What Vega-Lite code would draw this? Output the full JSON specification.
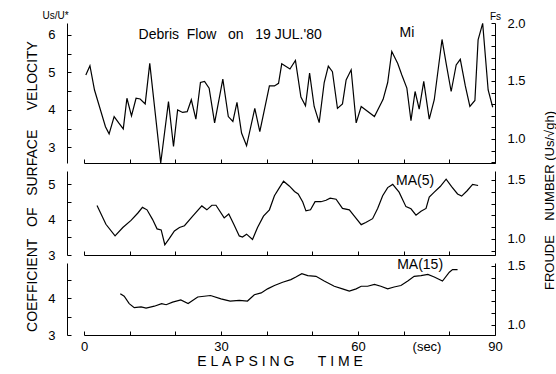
{
  "$schema": "https://vega.github.io/schema/vega-lite/v6.json",
  "padding": {"left": 24, "top": 10, "right": 0, "bottom": 0},
  "spacing": 8,
  "bounds": "flush",
  "config": {
    "view": {"stroke": null},
    "font": "Liberation Sans",
    "axis": {"domainColor": "black", "tickColor": "black", "labelColor": "black", "titleColor": "black", "labelFont": "Liberation Sans", "titleFont": "Liberation Sans", "titleFontWeight": "normal", "grid": false, "labelFontSize": 13, "tickWidth": 1, "domainWidth": 1}
  },
  "datasets": {
    "mi": [
      {"t": 0.4, "v": 4.93}, {"t": 1.3, "v": 5.18}, {"t": 2.3, "v": 4.53}, {"t": 4.7, "v": 3.55}, {"t": 5.5, "v": 3.36},
      {"t": 6.6, "v": 3.82}, {"t": 7.6, "v": 3.65}, {"t": 8.6, "v": 3.49}, {"t": 9.4, "v": 4.31}, {"t": 10.4, "v": 3.84},
      {"t": 11.4, "v": 4.31}, {"t": 12.3, "v": 4.29}, {"t": 13.4, "v": 4.16}, {"t": 14.4, "v": 5.24}, {"t": 16.8, "v": 2.58},
      {"t": 18.5, "v": 4.22}, {"t": 19.6, "v": 3.02}, {"t": 20.5, "v": 4.0}, {"t": 21.6, "v": 3.93}, {"t": 22.6, "v": 3.95},
      {"t": 23.5, "v": 4.27}, {"t": 24.5, "v": 3.75}, {"t": 25.5, "v": 4.73}, {"t": 26.4, "v": 4.76}, {"t": 27.4, "v": 4.58},
      {"t": 28.6, "v": 3.65}, {"t": 30.4, "v": 4.82}, {"t": 31.6, "v": 3.82}, {"t": 32.6, "v": 3.69}, {"t": 33.5, "v": 4.2},
      {"t": 34.5, "v": 3.38}, {"t": 35.6, "v": 3.04}, {"t": 37.4, "v": 4.04}, {"t": 38.5, "v": 3.42}, {"t": 40.6, "v": 4.64},
      {"t": 41.7, "v": 4.64}, {"t": 42.6, "v": 4.71}, {"t": 43.3, "v": 5.23}, {"t": 45.1, "v": 5.09}, {"t": 46.3, "v": 5.32},
      {"t": 47.5, "v": 4.34}, {"t": 48.5, "v": 4.11}, {"t": 49.4, "v": 4.98}, {"t": 50.4, "v": 4.09}, {"t": 51.5, "v": 3.66},
      {"t": 52.6, "v": 4.73}, {"t": 53.5, "v": 5.17}, {"t": 54.4, "v": 5.02}, {"t": 55.5, "v": 4.04}, {"t": 56.6, "v": 4.16},
      {"t": 57.4, "v": 4.8}, {"t": 58.5, "v": 5.07}, {"t": 59.6, "v": 3.65}, {"t": 60.7, "v": 4.09}, {"t": 63.6, "v": 3.82},
      {"t": 65.5, "v": 4.28}, {"t": 66.5, "v": 4.73}, {"t": 67.4, "v": 5.56}, {"t": 68.7, "v": 5.24}, {"t": 69.6, "v": 4.93},
      {"t": 70.7, "v": 4.58}, {"t": 71.6, "v": 3.71}, {"t": 72.5, "v": 4.49}, {"t": 73.4, "v": 4.02}, {"t": 74.4, "v": 4.76},
      {"t": 75.6, "v": 3.75}, {"t": 76.7, "v": 4.27}, {"t": 78.4, "v": 5.88}, {"t": 79.3, "v": 5.24}, {"t": 80.4, "v": 4.49},
      {"t": 81.5, "v": 5.2}, {"t": 82.4, "v": 5.35}, {"t": 83.5, "v": 4.64}, {"t": 84.5, "v": 4.09}, {"t": 85.6, "v": 4.25},
      {"t": 86.3, "v": 5.87}, {"t": 87.3, "v": 6.31}, {"t": 88.5, "v": 4.53}, {"t": 89.5, "v": 4.07}
    ],
    "ma5": [
      {"t": 2.85, "v": 4.4}, {"t": 4.8, "v": 3.87}, {"t": 6.8, "v": 3.54}, {"t": 8.5, "v": 3.78}, {"t": 10.3, "v": 3.98},
      {"t": 11.8, "v": 4.19}, {"t": 12.8, "v": 4.35}, {"t": 13.8, "v": 4.28}, {"t": 15.0, "v": 4.01}, {"t": 16.0, "v": 3.74},
      {"t": 16.9, "v": 3.71}, {"t": 17.7, "v": 3.29}, {"t": 18.7, "v": 3.47}, {"t": 19.8, "v": 3.68}, {"t": 20.9, "v": 3.78},
      {"t": 22.0, "v": 3.83}, {"t": 23.8, "v": 4.1}, {"t": 25.8, "v": 4.39}, {"t": 26.9, "v": 4.28}, {"t": 28.0, "v": 4.41},
      {"t": 28.9, "v": 4.41}, {"t": 30.7, "v": 4.05}, {"t": 31.7, "v": 4.16}, {"t": 32.8, "v": 3.87}, {"t": 34.0, "v": 3.54},
      {"t": 34.7, "v": 3.51}, {"t": 35.6, "v": 3.59}, {"t": 36.9, "v": 3.44}, {"t": 38.0, "v": 3.78}, {"t": 39.3, "v": 4.1},
      {"t": 40.6, "v": 4.28}, {"t": 41.7, "v": 4.68}, {"t": 42.8, "v": 4.91}, {"t": 43.7, "v": 5.09}, {"t": 45.0, "v": 4.95},
      {"t": 46.1, "v": 4.8}, {"t": 46.9, "v": 4.73}, {"t": 47.9, "v": 4.5}, {"t": 48.6, "v": 4.25}, {"t": 49.6, "v": 4.28},
      {"t": 50.6, "v": 4.51}, {"t": 51.9, "v": 4.51}, {"t": 53.0, "v": 4.55}, {"t": 53.9, "v": 4.61}, {"t": 55.2, "v": 4.58},
      {"t": 56.6, "v": 4.32}, {"t": 58.1, "v": 4.28}, {"t": 59.2, "v": 4.1}, {"t": 60.7, "v": 3.86}, {"t": 61.7, "v": 3.92},
      {"t": 63.2, "v": 4.03}, {"t": 64.3, "v": 4.32}, {"t": 65.4, "v": 4.68}, {"t": 66.5, "v": 4.91}, {"t": 67.6, "v": 5.0},
      {"t": 69.0, "v": 4.78}, {"t": 70.5, "v": 4.37}, {"t": 71.6, "v": 4.31}, {"t": 72.7, "v": 4.13}, {"t": 73.8, "v": 4.24},
      {"t": 74.9, "v": 4.32}, {"t": 75.6, "v": 4.64}, {"t": 76.7, "v": 4.78}, {"t": 78.0, "v": 4.94}, {"t": 79.3, "v": 5.15},
      {"t": 80.5, "v": 4.94}, {"t": 81.8, "v": 4.73}, {"t": 82.7, "v": 4.67}, {"t": 83.9, "v": 4.82}, {"t": 85.1, "v": 5.0},
      {"t": 86.3, "v": 4.97}
    ],
    "ma15": [
      {"t": 7.95, "v": 4.12}, {"t": 8.8, "v": 4.05}, {"t": 9.9, "v": 3.85}, {"t": 11.0, "v": 3.74}, {"t": 12.5, "v": 3.76},
      {"t": 13.6, "v": 3.73}, {"t": 15.4, "v": 3.78}, {"t": 17.0, "v": 3.85}, {"t": 18.0, "v": 3.82}, {"t": 19.4, "v": 3.89},
      {"t": 21.2, "v": 3.95}, {"t": 22.8, "v": 3.85}, {"t": 24.9, "v": 4.03}, {"t": 27.7, "v": 4.07}, {"t": 30.0, "v": 3.98},
      {"t": 32.0, "v": 3.92}, {"t": 34.0, "v": 3.94}, {"t": 35.8, "v": 3.92}, {"t": 37.3, "v": 4.09}, {"t": 38.8, "v": 4.14},
      {"t": 40.2, "v": 4.25}, {"t": 41.7, "v": 4.34}, {"t": 43.5, "v": 4.43}, {"t": 45.3, "v": 4.5}, {"t": 46.4, "v": 4.57},
      {"t": 47.7, "v": 4.66}, {"t": 49.0, "v": 4.61}, {"t": 50.8, "v": 4.59}, {"t": 52.6, "v": 4.46}, {"t": 54.8, "v": 4.32},
      {"t": 56.6, "v": 4.25}, {"t": 58.1, "v": 4.19}, {"t": 59.6, "v": 4.25}, {"t": 60.7, "v": 4.32}, {"t": 62.1, "v": 4.32},
      {"t": 63.6, "v": 4.37}, {"t": 65.0, "v": 4.32}, {"t": 66.5, "v": 4.25}, {"t": 67.9, "v": 4.3}, {"t": 69.4, "v": 4.34},
      {"t": 70.9, "v": 4.46}, {"t": 72.3, "v": 4.59}, {"t": 73.8, "v": 4.61}, {"t": 75.3, "v": 4.64}, {"t": 76.7, "v": 4.57},
      {"t": 78.5, "v": 4.46}, {"t": 80.0, "v": 4.7}, {"t": 80.7, "v": 4.77}, {"t": 81.8, "v": 4.77}
    ],
    "notesTop": [
      {"label": "Debris\u00a0\u00a0Flow\u00a0\u00a0\u00a0on\u00a0\u00a0\u00a019\u00a0JUL.'80", "t": 32.0, "v": 6.0},
      {"label": "Mi", "t": 70.7, "v": 6.05}
    ],
    "notesMid": [{"label": "MA(5)", "t": 72.5, "v": 5.11}],
    "notesBot": [{"label": "MA(15)", "t": 73.6, "v": 4.89}]
  },
  "vconcat": [
    {
      "width": 411,
      "height": 140,
      "resolve": {"scale": {"y": "independent"}},
      "layer": [
        {
          "encoding": {
            "x": {"field": "t", "type": "quantitative", "scale": {"domain": [0, 90], "nice": false},
              "axis": {"orient": "bottom", "values": [0, 10, 20, 30, 40, 50, 60, 70, 80, 90], "labels": false, "tickSize": -4, "title": null}},
            "y": {"field": "v", "type": "quantitative", "scale": {"domain": [2.58, 6.32], "nice": false, "zero": false},
              "axis": {"orient": "left", "offset": 17, "values": [3, 3.5, 4, 4.5, 5, 5.5, 6], "tickSize": -4, "labelPadding": 16,
                "labelExpr": "datum.value % 1 == 0 ? format(datum.value, 'd') : ''",
                "title": "Us/U*", "titleAngle": 0, "titleX": -12, "titleY": -8, "titleAlign": "center", "titleBaseline": "middle", "titleFontSize": 10}}
          },
          "layer": [
            {"data": {"name": "mi"}, "mark": {"type": "line", "color": "black", "strokeWidth": 1.2}},
            {"data": {"name": "notesTop"}, "mark": {"type": "text", "font": "Liberation Sans", "fontSize": 14, "color": "black", "baseline": "middle", "align": "center"},
              "encoding": {"text": {"field": "label"}}}
          ]
        },
        {
          "data": {"name": "mi"},
          "mark": {"type": "rule", "strokeOpacity": 0},
          "encoding": {
            "y": {"datum": 1.5, "type": "quantitative", "scale": {"domain": [0.793, 2.0], "nice": false, "zero": false},
              "axis": {"orient": "right", "values": [0.8, 0.9, 1.0, 1.1, 1.2, 1.3, 1.4, 1.5, 1.6, 1.7, 1.8, 1.9, 2.0], "tickSize": -4, "labelPadding": 16,
                "labelExpr": "abs(datum.value * 2 - round(datum.value * 2)) < 0.01 ? format(datum.value, '.1f') : ''",
                "title": "Fs", "titleAngle": 0, "titleX": 0, "titleY": -7, "titleAlign": "center", "titleBaseline": "middle", "titleFontSize": 10}}
          }
        }
      ]
    },
    {
      "width": 411,
      "height": 84,
      "resolve": {"scale": {"y": "independent"}},
      "layer": [
        {
          "encoding": {
            "x": {"field": "t", "type": "quantitative", "scale": {"domain": [0, 90], "nice": false},
              "axis": {"orient": "bottom", "values": [0, 10, 20, 30, 40, 50, 60, 70, 80, 90], "labels": false, "tickSize": -4, "title": null}},
            "y": {"field": "v", "type": "quantitative", "scale": {"domain": [3, 5.38], "nice": false, "zero": false},
              "axis": {"orient": "left", "offset": 17, "values": [3, 3.5, 4, 4.5, 5], "tickSize": -4, "labelPadding": 16,
                "labelExpr": "datum.value % 1 == 0 ? format(datum.value, 'd') : ''",
                "title": "COEFFICIENT\u00a0\u00a0\u00a0OF\u00a0\u00a0\u00a0SURFACE\u00a0\u00a0\u00a0\u00a0\u00a0VELOCITY", "titleAngle": 270, "titleX": -35, "titleY": 15, "titleAlign": "center", "titleBaseline": "middle", "titleFontSize": 14}}
          },
          "layer": [
            {"data": {"name": "ma5"}, "mark": {"type": "line", "color": "black", "strokeWidth": 1.2}},
            {"data": {"name": "notesMid"}, "mark": {"type": "text", "font": "Liberation Sans", "fontSize": 14, "color": "black", "baseline": "middle", "align": "center"},
              "encoding": {"text": {"field": "label"}}}
          ]
        },
        {
          "data": {"name": "ma5"},
          "mark": {"type": "rule", "strokeOpacity": 0},
          "encoding": {
            "y": {"datum": 1.2, "type": "quantitative", "scale": {"domain": [0.864, 1.576], "nice": false, "zero": false},
              "axis": {"orient": "right", "values": [0.9, 1.0, 1.1, 1.2, 1.3, 1.4, 1.5], "tickSize": -4, "labelPadding": 16,
                "labelExpr": "abs(datum.value * 2 - round(datum.value * 2)) < 0.01 ? format(datum.value, '.1f') : ''",
                "title": "FROUDE\u00a0\u00a0\u00a0\u00a0NUMBER\u00a0(Us/√gh)", "titleAngle": 270, "titleX": 54, "titleY": 29, "titleAlign": "center", "titleBaseline": "middle", "titleFontSize": 13}}
          }
        }
      ]
    },
    {
      "width": 411,
      "height": 72,
      "resolve": {"scale": {"y": "independent"}},
      "layer": [
        {
          "encoding": {
            "x": {"field": "t", "type": "quantitative", "scale": {"domain": [0, 90], "nice": false},
              "axis": {"orient": "bottom", "values": [0, 10, 20, 30, 40, 50, 60, 70, 75, 80, 90], "tickSize": -4, "labelPadding": 9, "labelFlush": false,
                "tickOpacity": {"condition": {"test": "datum.value == 75", "value": 0}, "value": 1},
                "labelExpr": "datum.value == 75 ? '(sec)' : (datum.value % 30 == 0 ? format(datum.value, 'd') : '')",
                "labelFontSize": 13,
                "title": "E\u00a0L\u00a0A\u00a0P\u00a0S\u00a0I\u00a0N\u00a0G\u00a0\u00a0\u00a0\u00a0\u00a0\u00a0T\u00a0I\u00a0M\u00a0E", "titleFontSize": 14, "titleX": 195.5, "titleY": 26, "titleAlign": "center", "titleBaseline": "middle"}},
            "y": {"field": "v", "type": "quantitative", "scale": {"domain": [3, 4.95], "nice": false, "zero": false},
              "axis": {"orient": "left", "offset": 17, "values": [3, 3.5, 4, 4.5], "tickSize": -4, "labelPadding": 16,
                "labelExpr": "datum.value % 1 == 0 ? format(datum.value, 'd') : ''", "title": null}}
          },
          "layer": [
            {"data": {"name": "ma15"}, "mark": {"type": "line", "color": "black", "strokeWidth": 1.2}},
            {"data": {"name": "notesBot"}, "mark": {"type": "text", "font": "Liberation Sans", "fontSize": 14, "color": "black", "baseline": "middle", "align": "center"},
              "encoding": {"text": {"field": "label"}}}
          ]
        },
        {
          "data": {"name": "ma15"},
          "mark": {"type": "rule", "strokeOpacity": 0},
          "encoding": {
            "y": {"datum": 1.2, "type": "quantitative", "scale": {"domain": [0.915, 1.525], "nice": false, "zero": false},
              "axis": {"orient": "right", "values": [1.0, 1.1, 1.2, 1.3, 1.4, 1.5], "tickSize": -4, "labelPadding": 16,
                "labelExpr": "abs(datum.value * 2 - round(datum.value * 2)) < 0.01 ? format(datum.value, '.1f') : ''", "title": null}}
          }
        }
      ]
    }
  ]
}
